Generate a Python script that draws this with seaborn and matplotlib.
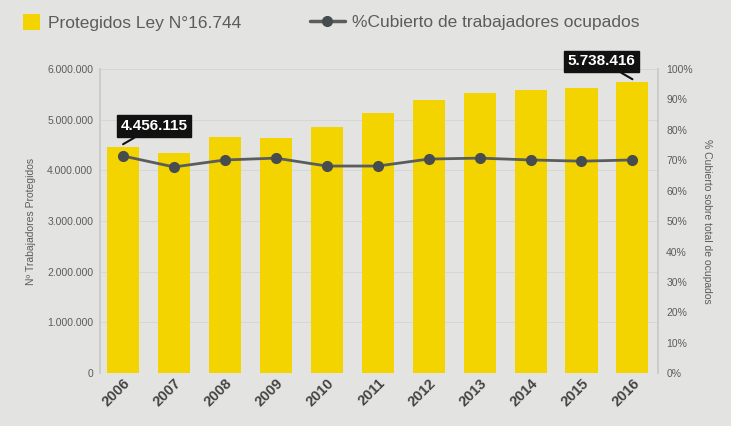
import matplotlib
matplotlib.use("Agg")
import matplotlib.pyplot as plt
import matplotlib.ticker as mticker
from matplotlib.patches import Patch
from matplotlib.lines import Line2D
import seaborn as sns
import pandas as pd

years = ["2006", "2007", "2008", "2009", "2010", "2011", "2012", "2013", "2014", "2015", "2016"]
protegidos = [4456115, 4340000, 4650000, 4630000, 4850000, 5130000, 5380000, 5520000, 5580000, 5620000, 5738416]
pct_cubierto = [71.4, 67.8, 70.1, 70.7, 68.1, 68.1, 70.4, 70.7, 70.1, 69.7, 70.1]
left_ticks = [0, 1000000, 2000000, 3000000, 4000000, 5000000, 6000000]
right_ticks = [0, 10, 20, 30, 40, 50, 60, 70, 80, 90, 100]

df = pd.DataFrame({"year": years, "protegidos": protegidos, "pct": pct_cubierto})

BG = "#e3e3e1"
YELLOW = "#f3d400"
LINE = "#5a5d5d"
MARK = "#474d4e"
TXT = "#5c5c5c"

sns.set_theme(style="white")
plt.rcParams["font.family"] = ["Liberation Sans", "DejaVu Sans"]

fig = plt.figure(figsize=(7.31, 4.26), dpi=100, facecolor=BG)
ax = fig.add_axes([0.137, 0.124, 0.763, 0.714])
ax.set_facecolor(BG)

sns.barplot(data=df, x="year", y="protegidos", color=YELLOW, saturation=1,
            width=0.63, linewidth=0, edgecolor="none", ax=ax, zorder=2)
ax.set_ylim(0, 6000000)
ax.set_yticks(left_ticks)
ax.yaxis.set_major_formatter(mticker.FuncFormatter(lambda v, p: f"{int(v):,}".replace(",", ".")))
ax.grid(axis="y", color="#d6d6d4", linewidth=0.7, zorder=0)
ax.set_xlabel("")
ax.set_ylabel("Nº Trabajadores Protegidos", fontsize=7.5, color=TXT, labelpad=8)
ax.tick_params(axis="y", labelsize=7.5, colors=TXT, length=0, pad=5)
ax.tick_params(axis="x", labelsize=10.5, colors="#444444", length=0, pad=2)
for lab in ax.get_xticklabels():
    lab.set_rotation(45)
    lab.set_ha("right")
    lab.set_rotation_mode("anchor")
    lab.set_fontweight("bold")
for side in ["top", "bottom"]:
    ax.spines[side].set_visible(False)
ax.spines["left"].set_color("#c9c9c7")
ax.spines["right"].set_color("#c9c9c7")

ax2 = ax.twinx()
sns.pointplot(data=df, x="year", y="pct", color=LINE, markers="o", markersize=6.5,
              linewidth=2, ax=ax2, zorder=4)
for ln in ax2.lines:
    ln.set_markerfacecolor(MARK)
    ln.set_markeredgecolor(MARK)
ax2.set_ylim(0, 100)
ax2.set_yticks(right_ticks)
ax2.yaxis.set_major_formatter(mticker.FuncFormatter(lambda v, p: f"{int(v)}%"))
ax2.tick_params(axis="y", labelsize=7.5, colors=TXT, length=0, pad=6)
ax2.set_ylabel("% Cubierto sobre total de ocupados", fontsize=7.5, color=TXT,
               rotation=270, labelpad=14)
ax2.set_xlabel("")
for side in ["top", "bottom", "left", "right"]:
    ax2.spines[side].set_visible(False)

ax.set_xlim(-0.45, 10.5)
ax2.set_xlim(-0.45, 10.5)

# value callouts
box = dict(boxstyle="square,pad=0.25", fc="#111111", ec="#111111")
ax.annotate(f"{protegidos[0]:,}".replace(",", "."), xy=(0, protegidos[0] + 60000),
            xytext=(-0.05, 4870000), ha="left", va="center", fontsize=11,
            fontweight="bold", color="white", bbox=box, zorder=6,
            arrowprops=dict(arrowstyle="-", color="#111111", lw=1.5,
                            shrinkA=0, shrinkB=0))
ax.annotate(f"{protegidos[-1]:,}".replace(",", "."), xy=(10, protegidos[-1] + 60000),
            xytext=(10.06, 6150000), ha="right", va="center", fontsize=11,
            fontweight="bold", color="white", bbox=box, zorder=6,
            annotation_clip=False,
            arrowprops=dict(arrowstyle="-", color="#111111", lw=1.5,
                            shrinkA=0, shrinkB=0))

# legend entries, one per series
leg_kw = dict(loc="upper left", frameon=False, fontsize=12.5, borderpad=0,
              borderaxespad=0, handletextpad=0.45)
leg1 = fig.legend([Patch(facecolor=YELLOW, edgecolor="none")],
                  ["Protegidos Ley N°16.744"], bbox_to_anchor=(0.031, 0.966),
                  handlelength=1.0, handleheight=1.0, **leg_kw)
leg2 = fig.legend([Line2D([0], [0], color=LINE, lw=2.5, marker="o", markersize=7,
                          markerfacecolor=MARK, markeredgecolor=MARK)],
                  ["%Cubierto de trabajadores ocupados"],
                  bbox_to_anchor=(0.424, 0.966), handlelength=2.0, **leg_kw)
for lg in (leg1, leg2):
    for t in lg.get_texts():
        t.set_color(TXT)

fig.savefig("out.png", dpi=100, facecolor=BG)
